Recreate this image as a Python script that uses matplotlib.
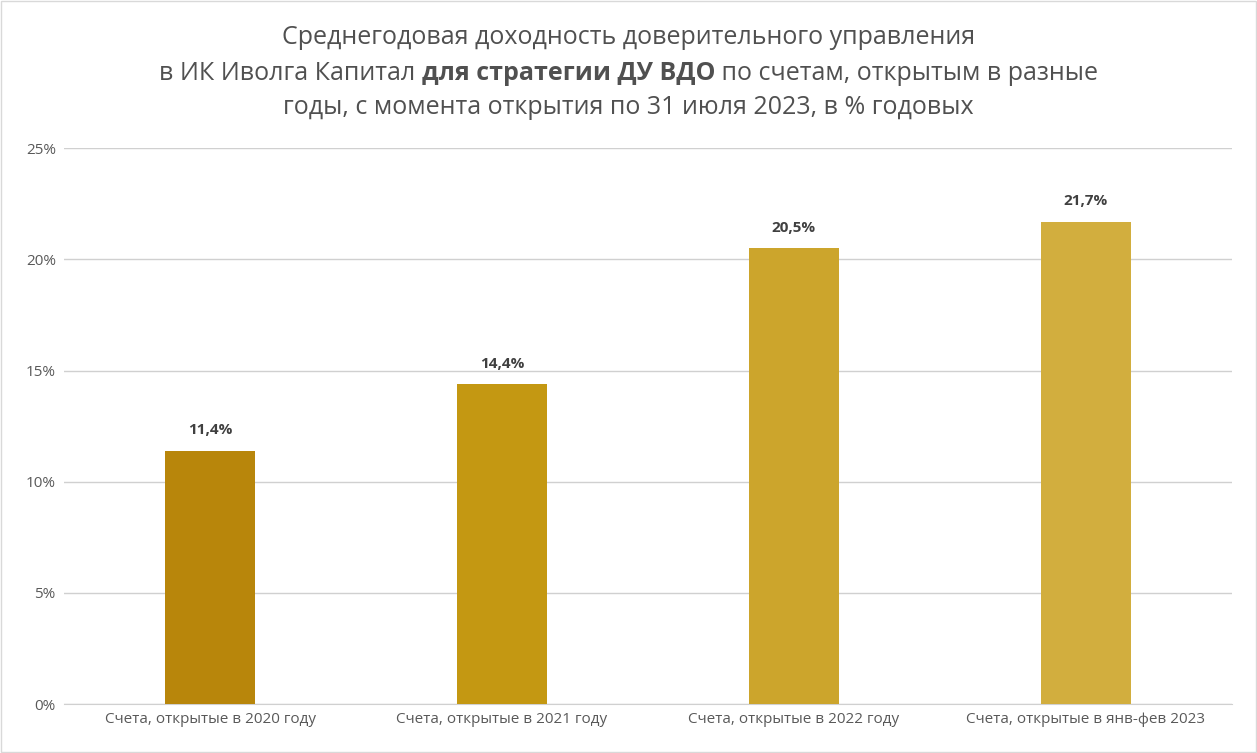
import matplotlib
matplotlib.use("Agg")
import matplotlib.pyplot as plt
from matplotlib.patches import Rectangle

plt.rcParams['font.family'] = 'Open Sans'

categories = ["Счета, открытые в 2020 году", "Счета, открытые в 2021 году",
              "Счета, открытые в 2022 году", "Счета, открытые в янв-фев 2023"]
values = [11.4, 14.4, 20.5, 21.7]
value_labels = ["11,4%", "14,4%", "20,5%", "21,7%"]
colors = ['#B8860B', '#C49812', '#CCA52C', '#D2AE3E']
yticks = [0, 5, 10, 15, 20, 25]

fig = plt.figure(figsize=(12.57, 7.53), dpi=100)
fig.patches.append(Rectangle((0.001, 0.001), 0.998, 0.998, transform=fig.transFigure,
                             fill=False, edgecolor='#D9D9D9', linewidth=1))
ax = fig.add_axes([0.051, 0.065, 0.929, 0.738])

x = range(len(categories))
ax.bar(x, values, width=0.31, color=colors, zorder=3)
for xi, v, lab in zip(x, values, value_labels):
    ax.text(xi, v + 0.6, lab, ha='center', va='bottom', fontsize=11,
            fontweight='bold', color='#404040')

ax.set_xlim(-0.5, 3.5)
ax.set_ylim(0, 25)
ax.set_yticks(yticks)
ax.set_yticklabels([f"{t}%" for t in yticks], color='#595959', fontsize=11)
ax.set_xticks(list(x))
ax.set_xticklabels(categories, color='#595959', fontsize=11)
ax.tick_params(length=0, pad=6)
ax.grid(axis='y', color='#D0D0D0', linewidth=1, zorder=0)
for s in ['top', 'right', 'left']:
    ax.spines[s].set_visible(False)
ax.spines['bottom'].set_color('#D0D0D0')

tc = '#505050'
fs = 18
fig.text(0.5, 0.950, "Среднегодовая доходность доверительного управления",
         ha='center', va='center', fontsize=fs, color=tc)
fig.text(0.5, 0.857, "годы, с момента открытия по 31 июля 2023, в % годовых",
         ha='center', va='center', fontsize=fs, color=tc)

# mixed-weight middle line
parts = [("в ИК Иволга Капитал ", 'normal'), ("для стратегии ДУ ВДО", 'bold'),
         (" по счетам, открытым в разные", 'normal')]
fig.canvas.draw()
r = fig.canvas.get_renderer()
texts = []
widths = []
for s, w in parts:
    t = fig.text(0, 0.903, s, ha='left', va='center', fontsize=fs, color=tc, fontweight=w)
    widths.append(t.get_window_extent(r).width)
    texts.append(t)
W = fig.get_figwidth() * fig.dpi
start = (W - sum(widths)) / 2
for t, w in zip(texts, widths):
    t.set_x(start / W)
    start += w

fig.savefig("out.png", dpi=100)
